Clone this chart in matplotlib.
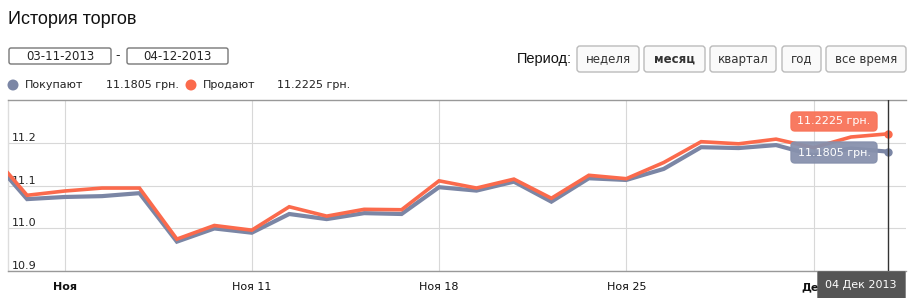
import matplotlib
matplotlib.use("Agg")
import matplotlib.pyplot as plt
from matplotlib.patches import FancyBboxPatch, Circle
from matplotlib.transforms import IdentityTransform

# trading days shown on the chart (weekends skipped, ordinal axis)
days = [
    "2013-10-31", "2013-11-01", "2013-11-04", "2013-11-05", "2013-11-06",
    "2013-11-07", "2013-11-08", "2013-11-11", "2013-11-12", "2013-11-13",
    "2013-11-14", "2013-11-15", "2013-11-18", "2013-11-19", "2013-11-20",
    "2013-11-21", "2013-11-22", "2013-11-25", "2013-11-26", "2013-11-27",
    "2013-11-28", "2013-11-29", "2013-12-02", "2013-12-03", "2013-12-04",
]
buy = [
    11.170, 11.069, 11.074, 11.076, 11.083, 10.969, 11.000, 10.990, 11.034,
    11.022, 11.036, 11.034, 11.097, 11.089, 11.110, 11.063, 11.118, 11.114,
    11.140, 11.191, 11.189, 11.196, 11.172, 11.188, 11.1805,
]
sell = [
    11.180, 11.078, 11.088, 11.095, 11.095, 10.975, 11.007, 10.996, 11.051,
    11.029, 11.045, 11.044, 11.112, 11.095, 11.116, 11.071, 11.125, 11.117,
    11.155, 11.204, 11.199, 11.210, 11.190, 11.215, 11.2225,
]
tick_days = ["2013-11-04", "2013-11-11", "2013-11-18", "2013-11-25", "2013-12-02"]
tick_labels = ["Ноя", "Ноя 11", "Ноя 18", "Ноя 25", "Дек"]
tick_bold = [True, False, False, False, True]
y_ticks = [10.9, 11.0, 11.1, 11.2]
periods = ["неделя", "месяц", "квартал", "год", "все время"]
active_period = "месяц"
date_from, date_to = "03-11-2013", "04-12-2013"

BUY_C = "#7b86a5"
SELL_C = "#fb6a4c"
W, H = 918, 298

fig = plt.figure(figsize=(W / 100, H / 100), dpi=100)
fig.patch.set_facecolor("white")
ax = fig.add_axes([8 / W, (H - 271) / H, 898 / W, 171 / H])

xs = list(range(len(days)))
ax.plot(xs, buy, color=BUY_C, lw=3.0, solid_joinstyle="miter", zorder=3)
ax.plot(xs, sell, color=SELL_C, lw=2.6, solid_joinstyle="miter", zorder=4)
ax.plot(xs[-1], buy[-1], "o", color=BUY_C, ms=5, zorder=5)
ax.plot(xs[-1], sell[-1], "o", color=SELL_C, ms=5, zorder=5)
ax.axvline(xs[-1], color="#333333", lw=1, zorder=6)

ax.set_xlim(0.49, 24.47)
ax.set_ylim(10.9, 11.302)
ax.set_yticks(y_ticks)
ax.set_yticklabels([f"{v:.1f}" for v in y_ticks], fontsize=8, color="#222222")
ax.tick_params(axis="y", length=0, pad=-3)
for lab in ax.get_yticklabels():
    lab.set_ha("left")
    lab.set_va("bottom")

ax.set_xticks([days.index(d) for d in tick_days])
ax.set_xticklabels(tick_labels, fontsize=8, color="#111111")
ax.tick_params(axis="x", length=0, pad=8)
for lab, b in zip(ax.get_xticklabels(), tick_bold):
    if b:
        lab.set_fontweight("bold")

ax.grid(True, color="#d8d8d8", lw=0.8)
ax.set_axisbelow(True)
ax.spines["top"].set_color("#999999")
ax.spines["bottom"].set_color("#999999")
ax.spines["left"].set_color("#dddddd")
ax.spines["right"].set_visible(False)
for s in ax.spines.values():
    s.set_linewidth(1)


def box(x0, y0, x1, y1, fc, ec, r=3, alpha=1.0, lw=1.0, z=2):
    p = FancyBboxPatch((x0, H - y1), x1 - x0, y1 - y0,
                       boxstyle=f"round,pad=0,rounding_size={r}",
                       fc=fc, ec=ec, lw=lw, alpha=alpha,
                       transform=IdentityTransform(), zorder=z)
    fig.add_artist(p)


def txt(x, y, s, **kw):
    kw.setdefault("va", "center")
    fig.text(x, H - y, s, transform=IdentityTransform(), **kw)


# header
txt(8, 20, "История торгов", fontsize=13, family="Liberation Sans", color="#111111")

# date range inputs
box(9, 48, 111, 64, "white", "#777777", r=2)
txt(60, 56, date_from, fontsize=8.5, ha="center", color="#222222")
txt(118, 56, "-", fontsize=9, ha="center", color="#222222")
box(127, 48, 228, 64, "white", "#777777", r=2)
txt(177, 56, date_to, fontsize=8.5, ha="center", color="#222222")

# period buttons
txt(517, 59, "Период:", fontsize=10.5, family="Liberation Sans", color="#111111")
btn_x = [(577, 639), (644, 705), (710, 776), (782, 821), (826, 906)]
for (x0, x1), name in zip(btn_x, periods):
    box(x0, 46, x1, 72, "#fafafa", "#bbbbbb", r=3)
    txt((x0 + x1) / 2, 59, name, fontsize=8.5, ha="center", color="#333333",
        fontweight="bold" if name == active_period else "normal")

# legend row
for cx, col in ((13, BUY_C), (191, SELL_C)):
    fig.add_artist(Circle((cx, H - 85), 5.5, fc=col, ec="none",
                          transform=IdentityTransform()))
txt(25, 85, "Покупают", fontsize=8, color="#222222")
txt(106, 85, f"{buy[-1]:.4f} грн.", fontsize=8, color="#222222")
txt(203, 85, "Продают", fontsize=8, color="#222222")
txt(277, 85, f"{sell[-1]:.4f} грн.", fontsize=8, color="#222222")

# hover tooltips
box(791, 112, 877, 131, "#f8755a", "#f8755a", r=4, alpha=0.96, z=3)
txt(834, 121.5, f"{sell[-1]:.4f} грн.", fontsize=8, ha="center", color="white", zorder=4)
box(791, 142, 877, 163, "#8791ad", "#8791ad", r=4, alpha=0.94, z=3)
txt(834, 152.5, f"{buy[-1]:.4f} грн.", fontsize=8, ha="center", color="white", zorder=4)

# date flag under crosshair
box(818, 272, 905, 300, "#555555", "#555555", r=0, z=3)
txt(861, 285, "04 Дек 2013", fontsize=8, ha="center", color="white", zorder=4)

fig.savefig("out.png", dpi=100)
